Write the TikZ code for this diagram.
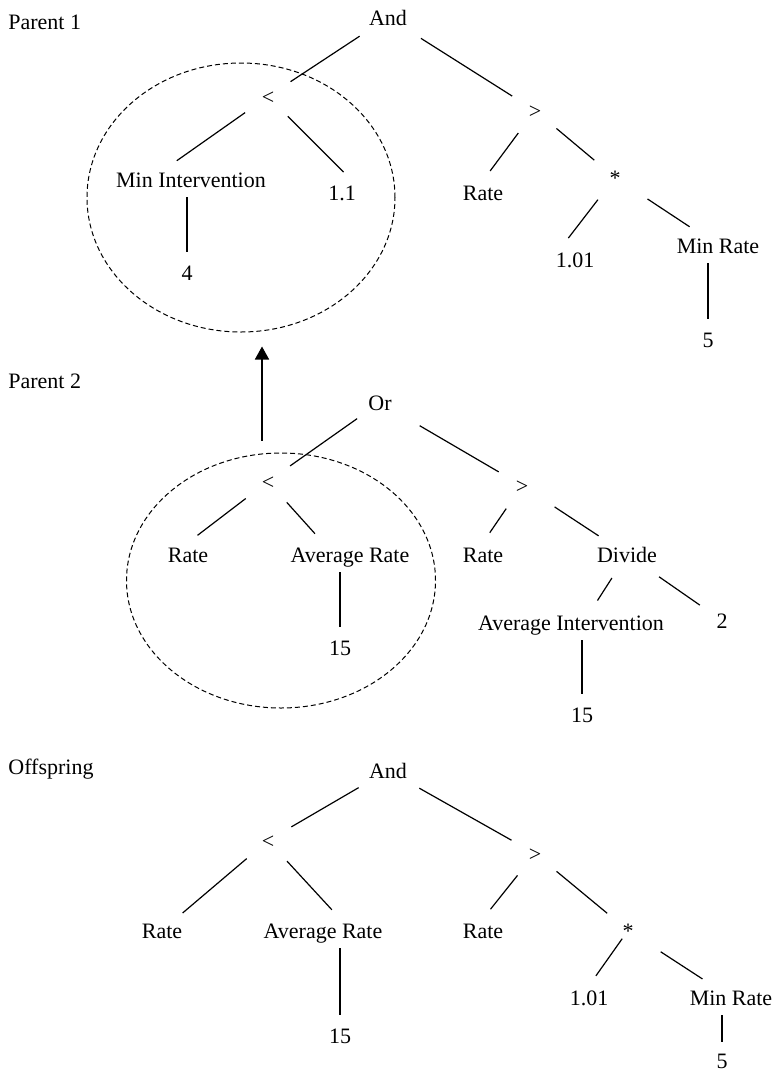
\documentclass[tikz,border=0pt]{standalone}
\usepackage{fontspec}
\setmainfont{Liberation Serif}
\usepackage{tikz}
\usetikzlibrary{positioning,shapes.geometric,arrows.meta}

\begin{document}
\begin{tikzpicture}[x=0.5pt, y=-0.5pt, on grid,
        term/.style = {font=\fontsize{11}{13}\selectfont, inner sep=2pt, text height=7.5pt, text depth=0pt},
        tag/.style = {font=\fontsize{11}{13}\selectfont, anchor=base west, inner sep=0pt},
        link/.style = {line width=0.6pt, shorten <=14pt, shorten >=13.5pt},
        twig/.style = {line width=0.6pt, shorten <=14pt, shorten >=6pt},
        stem/.style = {line width=0.6pt, shorten <=3pt, shorten >=4.5pt},
        group/.style = {ellipse, draw, dash pattern=on 2.5pt off 1.5pt, line width=0.5pt, inner sep=0pt}]
    \useasboundingbox (0,0) rectangle (775,1072);

    % Parent 1
    \node[tag] (lab1) at (8,29) {Parent 1};
    \node[term, anchor=base] (and1) at (388,25) {And};
    \node[term, below left=39.5pt and 60pt of and1] (lt1) {<};
    \node[term, below right=46.5pt and 73.5pt of and1] (gt1) {>};
    \node[term, below left=41.5pt and 38.5pt of lt1] (minint1) {Min Intervention};
    \node[term, below right=48pt and 37pt of lt1] (num11) {1.1};
    \node[term, below left=46.5pt and 2pt of minint1] (four1) {4};
    \node[term, below left=41pt and 26pt of gt1] (rate1) {Rate};
    \node[term, below right=33.5pt and 40pt of gt1] (mul1) {*};
    \node[term, below left=41pt and 20pt of mul1] (num101) {1.01};
    \node[term, below right=34pt and 51.5pt of mul1] (minrate1) {Min Rate};
    \node[term, below left=47pt and 5pt of minrate1] (five1) {5};
    \node[group, minimum width=154pt, minimum height=134.5pt] (grp1) at (241,197.5) {};

    \draw[link, shorten <=17pt] (and1.center) -- (lt1.center);
    \draw[link, shorten <=19.5pt] (and1.center) -- (gt1.center);
    \draw[twig] (lt1.center) -- ([xshift=-12pt]minint1.north);
    \draw[twig] (lt1.center) -- ([xshift=5pt]num11.north);
    \draw[stem] (four1 |- minint1.south) -- (four1.north);
    \draw[twig] (gt1.center) -- (rate1.north);
    \draw[link] (gt1.center) -- (mul1.center);
    \draw[twig] (mul1.center) -- ([xshift=-7pt]num101.north);
    \draw[link, shorten <=19.5pt, shorten >=17pt] (mul1.center) -- (minrate1.center);
    \draw[stem] (five1 |- minrate1.south) -- (five1.north);

    % Parent 2
    \node[tag] (lab2) at (8,388) {Parent 2};
    \node[term, anchor=base] (or2) at (380,410) {Or};
    \node[term, below left=39.5pt and 56pt of or2] (lt2) {<};
    \node[term, below right=41.5pt and 71pt of or2] (gt2) {>};
    \node[term, below left=36.5pt and 40pt of lt2] (rate2) {Rate};
    \node[term, below right=36.5pt and 41pt of lt2] (avgrate2) {Average Rate};
    \node[term, below left=46.5pt and 5pt of avgrate2] (fifteen2) {15};
    \node[term, below left=34.5pt and 19.5pt of gt2] (rate3) {Rate};
    \node[term, below right=34.5pt and 52.5pt of gt2] (divide2) {Divide};
    \node[term, below left=34pt and 28pt of divide2] (avgint2) {Average Intervention};
    \node[term, below right=33pt and 47.5pt of divide2] (two2) {2};
    \node[term, below right=46pt and 5.5pt of avgint2] (fifteen3) {15};
    \node[group, minimum width=154.5pt, minimum height=127.5pt] (grp2) at (281,580.5) {};

    \draw[link] (or2.center) -- (lt2.center);
    \draw[link, shorten <=23pt] (or2.center) -- (gt2.center);
    \draw[twig] (lt2.center) -- (rate2.north);
    \draw[twig] (lt2.center) -- ([xshift=-13.5pt]avgrate2.north);
    \draw[stem] (fifteen2 |- avgrate2.south) -- (fifteen2.north);
    \draw[twig] (gt2.center) -- (rate3.north);
    \draw[link, shorten <=19.5pt, shorten >=17pt] (gt2.center) -- (divide2.center);
    \draw[twig] (divide2.center) -- ([xshift=10pt]avgint2.north);
    \draw[link, shorten <=19.5pt] (divide2.center) -- (two2.center);
    \draw[stem] (fifteen3 |- avgint2.south) -- (fifteen3.north);

    \coordinate (shaft) at (262,0);
    \draw[line width=0.8pt, -{Triangle[length=6.5pt, width=7pt]}, shorten <=6pt, shorten >=7pt] (shaft |- grp2.north) -- (shaft |- grp1.south);

    % Offspring
    \node[tag] (lab3) at (8,774) {Offspring};
    \node[term, anchor=base] (and3) at (388,778) {And};
    \node[term, below left=35pt and 60pt of and3] (lt3) {<};
    \node[term, below right=41.5pt and 73.5pt of and3] (gt3) {>};
    \node[term, below left=45pt and 53pt of lt3] (rate4) {Rate};
    \node[term, below right=45pt and 27.5pt of lt3] (avgrate3) {Average Rate};
    \node[term, below right=52.5pt and 8.5pt of avgrate3] (fifteen4) {15};
    \node[term, below left=38.5pt and 26pt of gt3] (rate5) {Rate};
    \node[term, below right=38.5pt and 46.5pt of gt3] (mul2) {*};
    \node[term, below left=33.5pt and 19.5pt of mul2] (num102) {1.01};
    \node[term, below right=33.5pt and 51.5pt of mul2] (minrate2) {Min Rate};
    \node[term, below left=31.5pt and 4.5pt of minrate2] (five2) {5};

    \draw[link, shorten <=17pt] (and3.center) -- (lt3.center);
    \draw[link, shorten <=18pt] (and3.center) -- (gt3.center);
    \draw[link] (lt3.center) -- (rate4.center);
    \draw[twig] (lt3.center) -- ([xshift=8.5pt]avgrate3.north);
    \draw[stem] (fifteen4 |- avgrate3.south) -- (fifteen4.north);
    \draw[twig] (gt3.center) -- (rate5.north);
    \draw[link] (gt3.center) -- (mul2.center);
    \draw[twig, shorten <=5pt] (mul2.center) -- (num102.north);
    \draw[link, shorten <=19.5pt, shorten >=17pt] (mul2.center) -- (minrate2.center);
    \draw[stem, shorten >=3.5pt] (five2 |- minrate2.south) -- (five2.north);
\end{tikzpicture}
\end{document}
